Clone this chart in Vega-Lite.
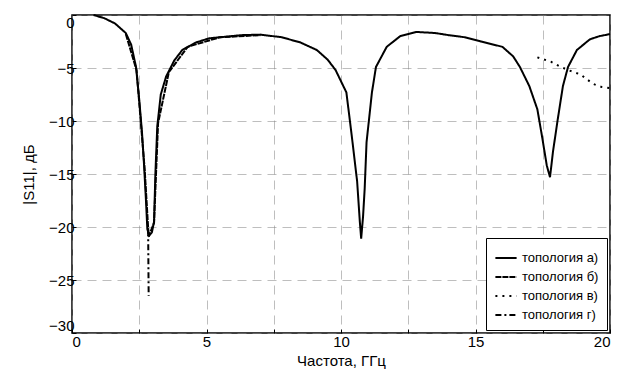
{
  "$schema": "https://vega.github.io/schema/vega-lite/v6.json",
  "width": 538,
  "height": 318,
  "autosize": {"type": "none"},
  "padding": {"left": 72, "top": 15, "right": 18, "bottom": 48},
  "background": "white",
  "config": {
    "font": "Liberation Sans",
    "view": {"stroke": "black", "strokeWidth": 1.5},
    "axis": {
      "labelFont": "Liberation Sans",
      "titleFont": "Liberation Sans",
      "labelFontSize": 15,
      "titleFontSize": 15,
      "titleFontWeight": "normal",
      "labelColor": "black",
      "titleColor": "black",
      "domain": false,
      "tickColor": "black",
      "tickSize": -4,
      "gridColor": "#888",
      "gridDash": [9, 6],
      "gridOpacity": 0.55,
      "gridWidth": 1
    }
  },
  "data": {
    "values": [
      {"series": "топология а)", "f": 0.8, "s": 0},
      {"series": "топология а)", "f": 1.2, "s": -0.3},
      {"series": "топология а)", "f": 1.6, "s": -0.8},
      {"series": "топология а)", "f": 2.0, "s": -1.7},
      {"series": "топология а)", "f": 2.2, "s": -2.8},
      {"series": "топология а)", "f": 2.38, "s": -4.9},
      {"series": "топология а)", "f": 2.5, "s": -8},
      {"series": "топология а)", "f": 2.6, "s": -11},
      {"series": "топология а)", "f": 2.68, "s": -14.2},
      {"series": "топология а)", "f": 2.75, "s": -17.5},
      {"series": "топология а)", "f": 2.8, "s": -20.2},
      {"series": "топология а)", "f": 2.87, "s": -20.8},
      {"series": "топология а)", "f": 2.97, "s": -20.5},
      {"series": "топология а)", "f": 3.05, "s": -19.5},
      {"series": "топология а)", "f": 3.1, "s": -15},
      {"series": "топология а)", "f": 3.17, "s": -10.5},
      {"series": "топология а)", "f": 3.3, "s": -7.5},
      {"series": "топология а)", "f": 3.5, "s": -5.8},
      {"series": "топология а)", "f": 3.8, "s": -4.3},
      {"series": "топология а)", "f": 4.1, "s": -3.3},
      {"series": "топология а)", "f": 4.6, "s": -2.6},
      {"series": "топология а)", "f": 5.1, "s": -2.2},
      {"series": "топология а)", "f": 6.3, "s": -1.9},
      {"series": "топология а)", "f": 7.0, "s": -1.85},
      {"series": "топология а)", "f": 7.8, "s": -2.1},
      {"series": "топология а)", "f": 8.5, "s": -2.6},
      {"series": "топология а)", "f": 9.1, "s": -3.3},
      {"series": "топология а)", "f": 9.5, "s": -4.2},
      {"series": "топология а)", "f": 9.8, "s": -5.2},
      {"series": "топология а)", "f": 10.2, "s": -7.3},
      {"series": "топология а)", "f": 10.4, "s": -11.4},
      {"series": "топология а)", "f": 10.6, "s": -15.7},
      {"series": "топология а)", "f": 10.7, "s": -19.5},
      {"series": "топология а)", "f": 10.75, "s": -21.1},
      {"series": "топология а)", "f": 10.82, "s": -19},
      {"series": "топология а)", "f": 10.88, "s": -16.4},
      {"series": "топология а)", "f": 10.95, "s": -12},
      {"series": "топология а)", "f": 11.15, "s": -7.3},
      {"series": "топология а)", "f": 11.3, "s": -4.9},
      {"series": "топология а)", "f": 11.7, "s": -3.0},
      {"series": "топология а)", "f": 12.2, "s": -2.0},
      {"series": "топология а)", "f": 12.8, "s": -1.6},
      {"series": "топология а)", "f": 13.5, "s": -1.7},
      {"series": "топология а)", "f": 14.0, "s": -1.9},
      {"series": "топология а)", "f": 14.6, "s": -2.1},
      {"series": "топология а)", "f": 15.2, "s": -2.5},
      {"series": "топология а)", "f": 16.0, "s": -3.0},
      {"series": "топология а)", "f": 16.4, "s": -3.9},
      {"series": "топология а)", "f": 16.65, "s": -4.9},
      {"series": "топология а)", "f": 17.0, "s": -6.7},
      {"series": "топология а)", "f": 17.3, "s": -8.9},
      {"series": "топология а)", "f": 17.47, "s": -11.4},
      {"series": "топология а)", "f": 17.65, "s": -14.2},
      {"series": "топология а)", "f": 17.77, "s": -15.3},
      {"series": "топология а)", "f": 17.88, "s": -12.9},
      {"series": "топология а)", "f": 18.06, "s": -9.8},
      {"series": "топология а)", "f": 18.25, "s": -6.7},
      {"series": "топология а)", "f": 18.44, "s": -4.9},
      {"series": "топология а)", "f": 18.77, "s": -3.3},
      {"series": "топология а)", "f": 19.25, "s": -2.3},
      {"series": "топология а)", "f": 19.6, "s": -2.0},
      {"series": "топология а)", "f": 20.0, "s": -1.8},

      {"series": "топология б)", "f": 2.0, "s": -1.8},
      {"series": "топология б)", "f": 2.4, "s": -5.2},
      {"series": "топология б)", "f": 2.7, "s": -14.5},
      {"series": "топология б)", "f": 2.85, "s": -20.9},
      {"series": "топология б)", "f": 3.05, "s": -19.6},
      {"series": "топология б)", "f": 3.2, "s": -10.2},
      {"series": "топология б)", "f": 3.6, "s": -5.4},
      {"series": "топология б)", "f": 4.3, "s": -3.0},
      {"series": "топология б)", "f": 5.5, "s": -2.1},
      {"series": "топология б)", "f": 7.0, "s": -1.9},

      {"series": "топология в)", "f": 17.3, "s": -4.0},
      {"series": "топология в)", "f": 17.8, "s": -4.4},
      {"series": "топология в)", "f": 18.1, "s": -4.8},
      {"series": "топология в)", "f": 18.44, "s": -5.2},
      {"series": "топология в)", "f": 18.9, "s": -5.6},
      {"series": "топология в)", "f": 19.37, "s": -6.5},
      {"series": "топология в)", "f": 19.7, "s": -6.8},
      {"series": "топология в)", "f": 20.0, "s": -6.9},

      {"series": "топология г)", "f": 2.83, "s": -20.3},
      {"series": "топология г)", "f": 2.84, "s": -23.5},
      {"series": "топология г)", "f": 2.85, "s": -26.5}
    ]
  },
  "mark": {"type": "line", "strokeWidth": 2, "color": "black"},
  "encoding": {
    "x": {
      "field": "f",
      "type": "quantitative",
      "scale": {"domain": [0, 20], "nice": false, "zero": false},
      "axis": {
        "title": "Частота, ГГц",
        "values": [0, 2.5, 5, 7.5, 10, 12.5, 15, 17.5, 20],
        "labelExpr": "datum.value % 5 === 0 ? datum.label : ''",
        "labelFlush": true,
        "titlePadding": 4,
        "labelPadding": 5
      }
    },
    "y": {
      "field": "s",
      "type": "quantitative",
      "scale": {"domain": [-30, 0], "nice": false},
      "axis": {
        "title": "|S11|, дБ",
        "values": [-30, -25, -20, -15, -10, -5, 0],
        "labelFlush": true,
        "titlePadding": 12,
        "labelPadding": 2
      }
    },
    "detail": {"field": "series"},
    "strokeDash": {
      "field": "series",
      "type": "nominal",
      "scale": {
        "domain": ["топология а)", "топология б)", "топология в)", "топология г)"],
        "range": [[1, 0], [6, 1], [2, 5], [6, 3, 2, 3]]
      },
      "legend": {
        "title": null,
        "orient": "bottom-right",
        "offset": 3,
        "strokeColor": "black",
        "fillColor": "white",
        "padding": 8,
        "symbolType": "stroke",
        "symbolStrokeColor": "black",
        "symbolStrokeWidth": 1.8,
        "symbolSize": 450,
        "labelFont": "Liberation Sans",
        "labelFontSize": 13,
        "labelColor": "black",
        "rowPadding": 0
      }
    }
  }
}
